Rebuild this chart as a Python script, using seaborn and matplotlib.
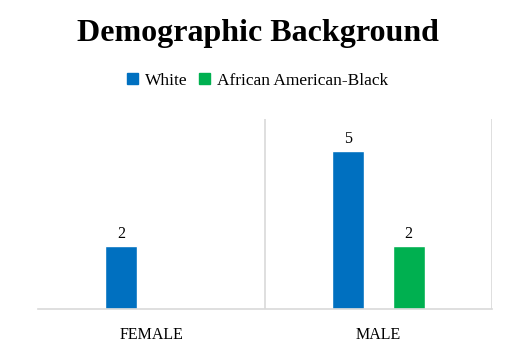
import matplotlib
matplotlib.use("Agg")
import matplotlib.pyplot as plt
import seaborn as sns
import pandas as pd

genders = ["FEMALE", "MALE"]
races = ["White", "African American-Black"]
white_counts = [2, 5]
black_counts = [0, 2]
colors = ["#0070C0", "#00B050"]

df = pd.DataFrame({
    "gender": genders * 2,
    "race": [races[0]] * 2 + [races[1]] * 2,
    "count": white_counts + black_counts,
})

sns.set_style("white")
plt.rcParams["font.family"] = ["Liberation Serif", "DejaVu Serif"]
plt.rcParams["text.color"] = "black"
plt.rcParams["xtick.color"] = "black"

fig = plt.figure(figsize=(5.15, 3.49), dpi=100)
ax = fig.add_axes([38 / 515, 40 / 349, 454 / 515, 190 / 349])

sns.barplot(data=df, x="gender", y="count", hue="race", palette=colors,
            width=0.533, gap=0.47, ax=ax, legend=False, saturation=1)

# value labels (skip zero bars)
for cont in ax.containers:
    labels = [f"{v:g}" if v > 0 else "" for v in cont.datavalues]
    ax.bar_label(cont, labels=labels, padding=3, fontsize=11.5)

ax.set_xlim(-0.5, 1.5)
ax.set_ylim(0, 6)
ax.set_yticks([])
ax.set_xlabel("")
ax.set_ylabel("")
ax.tick_params(axis="x", length=0, labelsize=11.5, pad=13)
for s in ["top", "left", "right"]:
    ax.spines[s].set_visible(False)
ax.spines["bottom"].set_color("#d9d9d9")
ax.spines["bottom"].set_linewidth(1.2)
for x in [0.5, 1.5]:
    ax.axvline(x, color="#d9d9d9", lw=1.2, zorder=0)

fig.text(0.5, 1 - 34 / 349, "Demographic Background", ha="center", va="center",
         fontsize=23, fontweight="bold")

handles = [plt.Rectangle((0, 0), 1, 1, color=c) for c in colors]
fig.legend(handles, races, loc="center", bbox_to_anchor=(0.5, 1 - 81 / 349),
           ncol=2, frameon=False, fontsize=12.5, handlelength=0.6,
           handleheight=0.6, handletextpad=0.4, columnspacing=0.7)

fig.savefig("out.png", dpi=100)
